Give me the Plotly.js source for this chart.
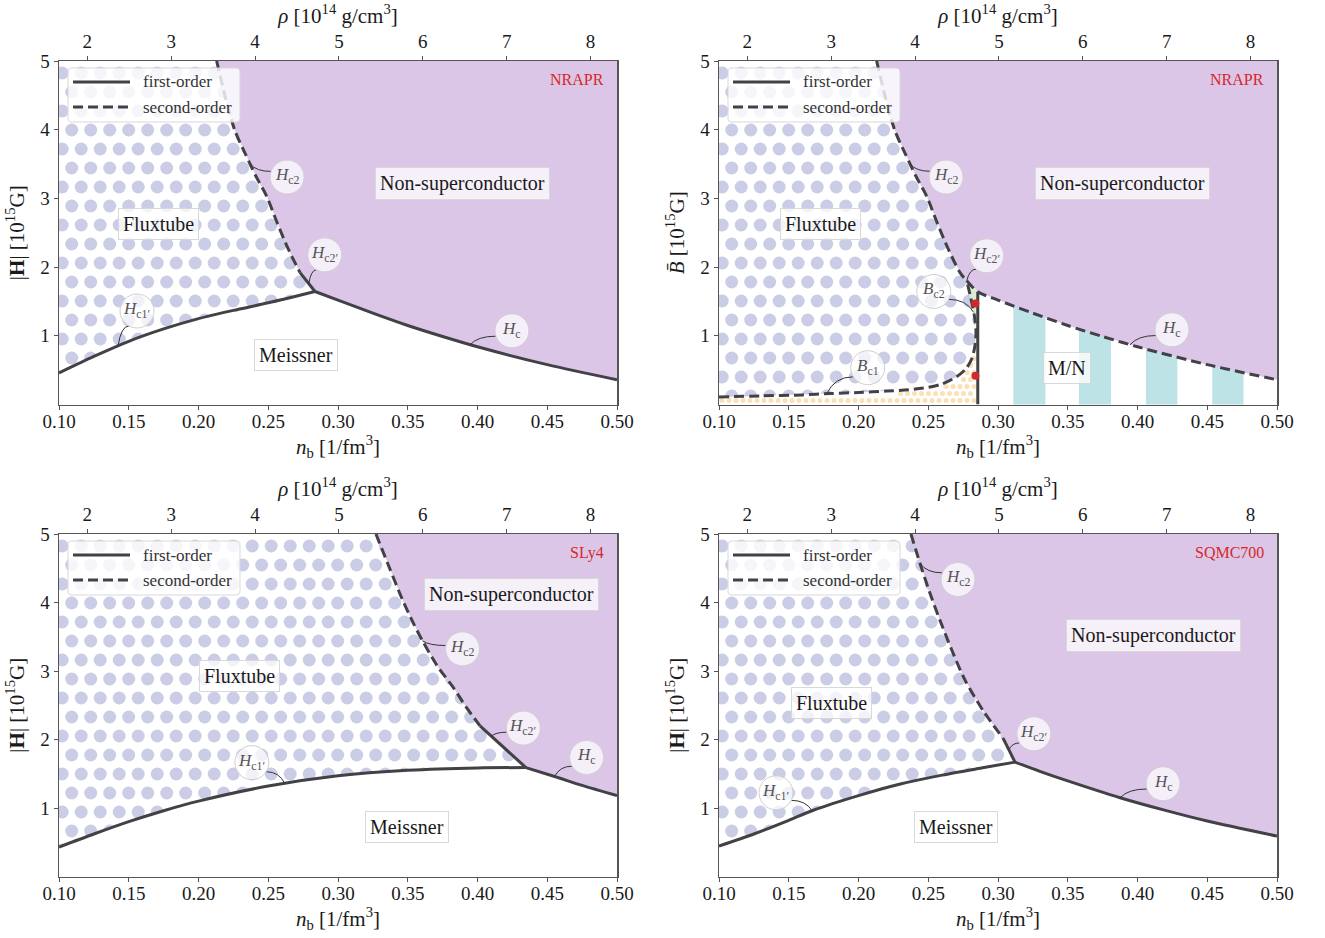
<!DOCTYPE html>
<html><head><meta charset="utf-8">
<script src="https://cdn.plot.ly/plotly-3.0.1.min.js"></script>
<style>body{margin:0;background:#fff}#chart{width:1325px;height:938px}</style>
</head><body><div id="chart"></div><script>
const F = 'Liberation Serif, Times New Roman, serif';
const RHO_PER_NB = 16.63;
const xTicks = [0.10,0.15,0.20,0.25,0.30,0.35,0.40,0.45,0.50];
const yTicks = [1,2,3,4,5];
const rhoTicks = [2,3,4,5,6,7,8];
const models = ['NRAPR','NRAPR','SLy4','SQMC700'];
const legendNames = ['first-order','second-order'];

// ---- Panel 1: NRAPR, |H| ----
const A_hc2_nb  = [0.213,0.2195,0.2262,0.2333,0.241,0.2489,0.2565,0.2644,0.2728];
const A_hc2_H   = [5.0,4.45,3.98,3.66,3.33,3.03,2.64,2.26,1.92];
const A_hc2p_nb = [0.2728,0.2835];
const A_hc2p_H  = [1.92,1.645];
const A_hc1p_nb = [0.10,0.125,0.15,0.175,0.20,0.225,0.25,0.2835];
const A_hc1p_H  = [0.46,0.70,0.92,1.10,1.25,1.37,1.48,1.645];
const A_hc_nb   = [0.2835,0.30,0.325,0.35,0.375,0.40,0.45,0.50];
const A_hc_H    = [1.645,1.52,1.33,1.15,0.99,0.84,0.58,0.36];

// ---- Panel 2: NRAPR, B-bar ----
const B_hc2_nb = [0.213,0.2195,0.2262,0.2333,0.241,0.2489,0.2565,0.2644,0.2728,0.2776];
const B_hc2_H  = [5.0,4.45,3.98,3.66,3.33,3.03,2.64,2.26,1.92,1.80];
const B_hc_nb  = [0.2776,0.2855,0.30,0.325,0.35,0.375,0.40,0.45,0.50];
const B_hc_H   = [1.80,1.64,1.52,1.33,1.15,0.99,0.84,0.58,0.36];
const B_bc_nb  = [0.10,0.13,0.16,0.18,0.20,0.22,0.236,0.25,0.26,0.270,0.277,0.2815,0.2838,0.2842,0.283,0.2805,0.2776];
const B_bc_H   = [0.11,0.125,0.14,0.16,0.175,0.195,0.215,0.25,0.30,0.40,0.52,0.68,0.90,1.09,1.30,1.55,1.80];
const B_wall_nb = 0.2855;
const B_wall_top = 1.64;
const B_red_nb = [0.2838,0.2838];
const B_red_H  = [1.47,0.42];
const B_stripe_start = [0.311,0.358,0.406,0.4536];
const B_stripe_end   = [0.334,0.381,0.4286,0.476];

// ---- Panel 3: SLy4 ----
const C_hc2_nb  = [0.3272,0.337,0.346,0.354,0.3606,0.371,0.3826,0.392,0.4018];
const C_hc2_H   = [5.0,4.5,4.05,3.7,3.44,3.08,2.76,2.47,2.2];
const C_hc2p_nb = [0.4018,0.4347];
const C_hc2p_H  = [2.2,1.59];
const C_hc1p_nb = [0.10,0.125,0.15,0.175,0.20,0.25,0.30,0.35,0.40,0.4347];
const C_hc1p_H  = [0.43,0.62,0.80,0.96,1.10,1.32,1.47,1.55,1.585,1.59];
const C_hc_nb   = [0.4347,0.4553,0.475,0.50];
const C_hc_H    = [1.59,1.46,1.33,1.18];

// ---- Panel 4: SQMC700 ----
const D_hc2_nb  = [0.2376,0.2441,0.2510,0.2584,0.2670,0.2763,0.29,0.3036];
const D_hc2_H   = [5.0,4.57,4.15,3.74,3.30,2.87,2.40,2.02];
const D_hc2p_nb = [0.3036,0.3122];
const D_hc2p_H  = [2.02,1.67];
const D_hc1p_nb = [0.10,0.125,0.15,0.1667,0.20,0.23,0.26,0.29,0.3122];
const D_hc1p_H  = [0.445,0.62,0.82,0.96,1.18,1.35,1.48,1.59,1.67];
const D_hc_nb   = [0.3122,0.33,0.35,0.3875,0.42,0.45,0.50];
const D_hc_H    = [1.67,1.535,1.395,1.15,0.965,0.81,0.59];

// region labels [panel][ text, nb, H ]
const boxLabels = [
  [['Non-superconductor',0.389,3.22],['Fluxtube',0.171,2.63],['Meissner',0.27,0.72]],
  [['Non-superconductor',0.3896,3.22],['Fluxtube',0.1724,2.63],['M/N',0.3495,0.535]],
  [['Non-superconductor',0.4247,4.12],['Fluxtube',0.2297,2.93],['Meissner',0.3495,0.72]],
  [['Non-superconductor',0.4118,3.52],['Fluxtube',0.1803,2.53],['Meissner',0.2699,0.72]]
];
// bubble labels: text, anchor nb, anchor H, center offset dx, dy (px, up positive)
const bubbles = [
  [['<i>H</i><sub>c2</sub>',0.237,3.50,37,-13],['<i>H</i><sub>c2′</sub>',0.279,1.756,16,29],
   ['<i>H</i><sub>c</sub>',0.3946,0.869,42,14],['<i>H</i><sub>c1′</sub>',0.1423,0.852,19,35]],
  [['<i>H</i><sub>c2</sub>',0.237,3.50,36,-13],['<i>H</i><sub>c2′</sub>',0.2776,1.80,20,25],
   ['<i>B</i><sub>c2</sub>',0.2826,1.34,-40,21],['<i>B</i><sub>c1</sub>',0.1772,0.157,41,26],
   ['<i>H</i><sub>c</sub>',0.3946,0.869,42,15]],
  [['<i>H</i><sub>c2</sub>',0.3606,3.44,40,-8],['<i>H</i><sub>c2′</sub>',0.4099,2.05,32,8],
   ['<i>H</i><sub>c</sub>',0.4553,1.46,32,19],['<i>H</i><sub>c1′</sub>',0.2619,1.356,-33,21]],
  [['<i>H</i><sub>c2</sub>',0.2441,4.57,38,-16],['<i>H</i><sub>c2′</sub>',0.3078,1.85,25,16],
   ['<i>H</i><sub>c</sub>',0.3875,1.15,43,14],['<i>H</i><sub>c1′</sub>',0.1667,0.96,-36,18]]
];

// ---------- layout geometry ----------
const W=1325, Hh=938;
const colDom = [[59/W,617/W],[719/W,1277/W]];
const rowDom = [[1-404.5/Hh,1-61/Hh],[1-876.5/Hh,1-534/Hh]];
const panelDom = [[colDom[0],rowDom[0]],[colDom[1],rowDom[0]],[colDom[0],rowDom[1]],[colDom[1],rowDom[1]]];
const legendBox = [[68,68],[728,68],[68,541],[728,541]]; // px top-left of each legend box

const LINE = '#414146', LW = 3, DASH = '10px,5px';
const PURPLE = '#dcc6e8', LAV = '#cbcce6', CYAN = '#bde3e6', GREEN = '#dcedd3', ORANGE = '#fddfb6';

function ids(i){ return {x: i===0?'x':'x'+(i+1), y: i===0?'y':'y'+(i+1), xt:'x'+(i+5)}; }
function interp(xs, ys, x){
  if(x<=xs[0]) return ys[0];
  for(let k=1;k<xs.length;k++){ if(x<=xs[k]){ const t=(x-xs[k-1])/(xs[k]-xs[k-1]); return ys[k-1]+t*(ys[k]-ys[k-1]); } }
  return ys[ys.length-1];
}
function scales(i){ const d=panelDom[i]; return {kx:(d[0][1]-d[0][0])*W/0.4, ky:(d[1][1]-d[1][0])*Hh/5}; }
function px2paper(x,y){ return [(x/W).toFixed(5), (1-y/Hh).toFixed(5)]; }
function roundRectPath(x,y,w,h,r){
  const P=(a,b)=>px2paper(a,b).join(',');
  return `M${P(x+r,y)} L${P(x+w-r,y)} Q${P(x+w,y)} ${P(x+w,y+r)} L${P(x+w,y+h-r)} Q${P(x+w,y+h)} ${P(x+w-r,y+h)} `+
         `L${P(x+r,y+h)} Q${P(x,y+h)} ${P(x,y+h-r)} L${P(x,y+r)} Q${P(x,y)} ${P(x+r,y)} Z`;
}

const traces = [];
function poly(i, xs, ys, color){
  const a=ids(i);
  traces.push({x:xs, y:ys, xaxis:a.x, yaxis:a.y, mode:'lines', fill:'toself', fillcolor:color,
    line:{width:0, color:color}, showlegend:false, hoverinfo:'skip'});
}
function line(i, xs, ys, dashed){
  const a=ids(i);
  traces.push({x:xs, y:ys, xaxis:a.x, yaxis:a.y, mode:'lines',
    line:{color:LINE, width:LW, dash: dashed?DASH:'solid', shape: xs.length>2?'spline':'linear', smoothing:0.8},
    showlegend:false, hoverinfo:'skip'});
}
function lavenderDots(i){
  const a=ids(i), s=scales(i); const xs=[], ys=[];
  for(let r=-1;r<20;r++){
    const yrel = 12 + 19*r;
    const off = (Math.abs(r)%2===1) ? 12.7 : 3.2;
    for(let c=-1;c<31;c++){
      const xrel = off + 19*c;
      xs.push(0.1 + xrel/s.kx); ys.push(5 - yrel/s.ky);
    }
  }
  traces.push({x:xs, y:ys, xaxis:a.x, yaxis:a.y, mode:'markers', marker:{size:13, color:LAV, line:{width:0}},
    showlegend:false, hoverinfo:'skip'});
}
function topAxisDummy(i){
  const a=ids(i);
  traces.push({x:[0.3*RHO_PER_NB], y:[0], xaxis:a.xt, yaxis:a.y, mode:'markers', marker:{opacity:0}, showlegend:false, hoverinfo:'skip'});
}

// ---------- standard panels (1,3,4) ----------
function standardPanel(i, hc2nb, hc2H, hc2pnb, hc2pH, hc1pnb, hc1pH, hcnb, hcH){
  lavenderDots(i);
  poly(i, [...hc2nb, ...hc2pnb, ...hcnb, 0.5, hc2nb[0]], [...hc2H, ...hc2pH, ...hcH, 5.5, 5.5], PURPLE);
  poly(i, [0.05, 0.1, ...hc1pnb, ...hcnb, 0.55, 0.55, 0.05], [hc1pH[0], hc1pH[0], ...hc1pH, ...hcH, hcH[hcH.length-1], -0.5, -0.5], '#ffffff');
  line(i, hc1pnb, hc1pH, false);
  line(i, hc2nb, hc2H, true);
  line(i, hc2pnb, hc2pH, false);
  line(i, hcnb, hcH, false);
  topAxisDummy(i);
}
standardPanel(0, A_hc2_nb, A_hc2_H, A_hc2p_nb, A_hc2p_H, A_hc1p_nb, A_hc1p_H, A_hc_nb, A_hc_H);

// ---------- panel 2 ----------
(function(){
  const i=1, a=ids(i), s=scales(i);
  lavenderDots(i);
  poly(i, [B_wall_nb,B_wall_nb,0.55,0.55], [-0.5,5.5,5.5,-0.5], '#ffffff');
  for(let k=0;k<B_stripe_start.length;k++){
    poly(i, [B_stripe_start[k],B_stripe_start[k],B_stripe_end[k],B_stripe_end[k]], [-0.5,5.5,5.5,-0.5], CYAN);
  }
  poly(i, [...B_hc2_nb, ...B_hc_nb.slice(1), 0.5, B_hc2_nb[0]], [...B_hc2_H, ...B_hc_H.slice(1), 5.5, 5.5], PURPLE);
  poly(i, [0.05, ...B_bc_nb, B_wall_nb, B_wall_nb, 0.05], [B_bc_H[0], ...B_bc_H, B_wall_top, -0.5, -0.5], '#ffffff');
  const gx=[], gy=[];
  for(let k=0;k<B_bc_nb.length;k++){ if(B_bc_H[k]>=0.9){ gx.push(B_bc_nb[k]); gy.push(B_bc_H[k]); } }
  poly(i, [...gx, B_wall_nb, B_wall_nb], [...gy, B_wall_top, gy[0]], GREEN);
  // orange dot texture below Bc1
  const mono = 14; const bnb = B_bc_nb.slice(0,mono), bH = B_bc_H.slice(0,mono);
  const ox=[], oy=[];
  for(let r=0;r<70;r++){
    const yb = 4 + 7*r;
    for(let c=0;c<90;c++){
      const xr = 3 + 7*c + (r%2)*3.5;
      const nb = 0.1 + xr/s.kx, hv = yb/s.ky;
      if(nb > B_wall_nb - 3.5/s.kx) continue;
      const lim = Math.min(interp(bnb,bH,nb), 0.8) - 3/s.ky;
      if(hv < lim) { ox.push(nb); oy.push(hv); }
    }
  }
  traces.push({x:ox, y:oy, xaxis:a.x, yaxis:a.y, mode:'markers', marker:{size:5, color:ORANGE}, showlegend:false, hoverinfo:'skip'});
  line(i, [B_wall_nb,B_wall_nb], [0,B_wall_top], false);
  line(i, B_hc2_nb, B_hc2_H, true);
  line(i, B_hc_nb, B_hc_H, true);
  line(i, B_bc_nb, B_bc_H, true);
  traces.push({x:B_red_nb, y:B_red_H, xaxis:a.x, yaxis:a.y, mode:'markers', marker:{size:8, color:'#d62728'}, showlegend:false, hoverinfo:'skip'});
  topAxisDummy(i);
})();

standardPanel(2, C_hc2_nb, C_hc2_H, C_hc2p_nb, C_hc2p_H, C_hc1p_nb, C_hc1p_H, C_hc_nb, C_hc_H);
standardPanel(3, D_hc2_nb, D_hc2_H, D_hc2p_nb, D_hc2p_H, D_hc1p_nb, D_hc1p_H, D_hc_nb, D_hc_H);

// ---------- layout ----------
const tickFont = {family:F, size:19, color:'#1a1a1a'};
const titleFont = {family:F, size:21, color:'#1a1a1a'};
const layout = {width:W, height:Hh, margin:{l:0,r:0,t:0,b:0}, paper_bgcolor:'#fff', plot_bgcolor:'#fff',
  hovermode:false, showlegend:false, font:{family:F}, shapes:[], annotations:[]};
for(let i=0;i<4;i++){
  const a=ids(i), d=panelDom[i];
  const xk = i===0?'xaxis':'xaxis'+(i+1), yk = i===0?'yaxis':'yaxis'+(i+1), tk='xaxis'+(i+5);
  const common = {ticks:'outside', ticklen:4, tickwidth:1, tickcolor:'#555', showline:true, linecolor:'#555', linewidth:1.5,
    showgrid:false, zeroline:false, tickfont:tickFont, automargin:false};
  layout[xk] = Object.assign({domain:d[0], range:[0.1,0.5], anchor:a.y, mirror:true, tickvals:xTicks, ticktext:xTicks.map(v=>v.toFixed(2)),
    ticklabelstandoff:-5, title:{text:'<i>n</i><sub>b</sub> [1/fm<sup>3</sup>]', font:titleFont, standoff:4}}, common);
  layout[yk] = Object.assign({domain:d[1], range:[0,5], anchor:a.x, mirror:true, tickvals:yTicks,
    title:{text: i===1 ? '<i>B̄</i> [10<sup>15</sup>G]' : '|<b>H</b>| [10<sup>15</sup>G]', font:titleFont, standoff:10}}, common);
  layout[tk] = Object.assign({overlaying:a.x, side:'top', anchor:a.y, range:[0.1*RHO_PER_NB,0.5*RHO_PER_NB], tickvals:rhoTicks,
    title:{text:'<i>ρ</i> [10<sup>14</sup> g/cm<sup>3</sup>]', font:titleFont, standoff:1}}, common);
  layout.annotations.push({xref:a.x+' domain', yref:a.y+' domain', x:0.98, y:0.945, xanchor:'right', yanchor:'middle',
    text:models[i], showarrow:false, font:{family:F, size:16, color:'#d62728'}});
  // legend box (drawn as shapes + text)
  const lx=legendBox[i][0], ly=legendBox[i][1];
  layout.shapes.push({type:'path', xref:'paper', yref:'paper', path:roundRectPath(lx,ly,172,54,4),
    fillcolor:'rgba(255,255,255,0.8)', line:{color:'#d8d8d8', width:1}, layer:'above'});
  for(let k=0;k<2;k++){
    const yy = 1-(ly+14+25*k)/Hh;
    layout.shapes.push({type:'line', xref:'paper', yref:'paper', x0:(lx+5)/W, x1:(lx+62)/W, y0:yy, y1:yy,
      line:{color:LINE, width:LW, dash: k===0?'solid':DASH}, layer:'above'});
    layout.annotations.push({xref:'paper', yref:'paper', x:(lx+73)/W, y:yy, xanchor:'left', yanchor:'middle',
      text:legendNames[k], showarrow:false, font:{family:F, size:17, color:'#333'}});
  }
  for(const b of boxLabels[i]){
    layout.annotations.push({xref:a.x, yref:a.y, x:b[1], y:b[2], text:b[0], showarrow:false,
      font:{family:F, size:20, color:'#1a1a1a'}, bgcolor:'rgba(255,255,255,0.75)', bordercolor:'#d8d8d8', borderwidth:1, borderpad:4});
  }
  const r=17;
  for(const b of bubbles[i]){
    const dx=b[3], dy=b[4], dd=Math.hypot(dx,dy);
    const ex=dx - r*dx/dd, ey=dy - r*dy/dd;
    const cx=ex*0.3, cy=ey;
    layout.shapes.push({type:'path', xref:a.x, yref:a.y, xsizemode:'pixel', ysizemode:'pixel', xanchor:b[1], yanchor:b[2],
      path:`M0,0 Q${cx.toFixed(2)},${cy.toFixed(2)} ${ex.toFixed(2)},${ey.toFixed(2)}`, line:{color:'#333', width:1}, layer:'above'});
    layout.shapes.push({type:'circle', xref:a.x, yref:a.y, xsizemode:'pixel', ysizemode:'pixel', xanchor:b[1], yanchor:b[2],
      x0:dx-r, x1:dx+r, y0:dy-r, y1:dy+r, fillcolor:'rgba(255,255,255,0.72)', line:{color:'#cfcfcf', width:1}, layer:'above'});
    layout.annotations.push({xref:a.x, yref:a.y, x:b[1], y:b[2], xshift:dx, yshift:dy+1, text:b[0], showarrow:false,
      font:{family:F, size:17, color:'#555'}});
  }
}
Plotly.newPlot('chart', traces, layout, {staticPlot:true, displayModeBar:false});
</script></body></html>
